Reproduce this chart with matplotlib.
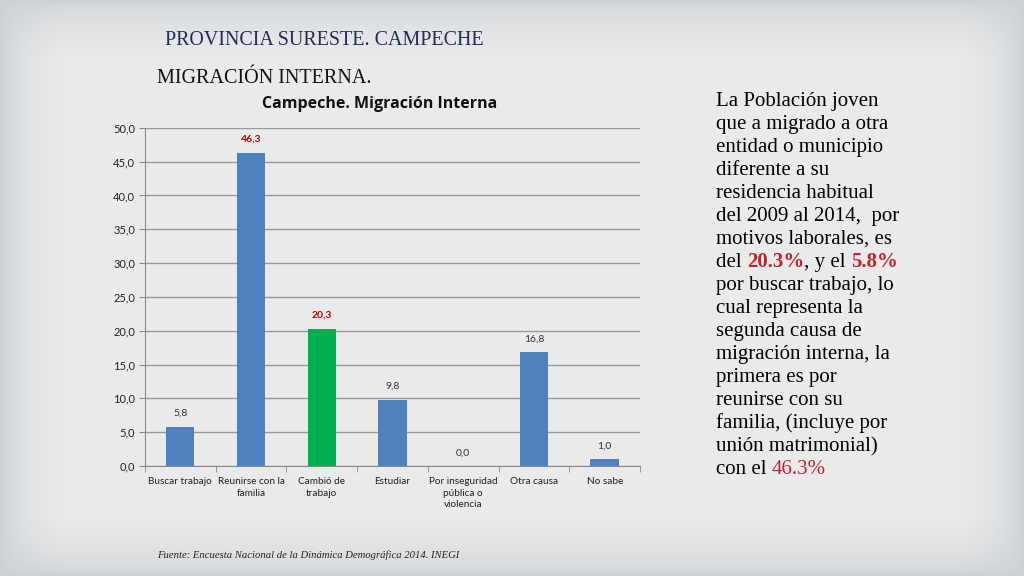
import numpy as np
import matplotlib
matplotlib.use("Agg")
from matplotlib import pyplot as plt

# chart data
categories = ["Buscar trabajo", "Reunirse con la\nfamilia", "Cambió de\ntrabajo", "Estudiar",
              "Por inseguridad\npública o\nviolencia", "Otra causa", "No sabe"]
values = [5.8, 46.3, 20.3, 9.8, 0.0, 16.8, 1.0]
highlight = [False, True, True, False, False, False, False]
bar_colors = ["#4f81bd", "#4f81bd", "#00b050", "#4f81bd", "#4f81bd", "#4f81bd", "#4f81bd"]
yticks = [0, 5, 10, 15, 20, 25, 30, 35, 40, 45, 50]

# paragraph on the right, split into (text, color, bold) pieces per line
paragraph = [
    [("La Población joven", "k", False)],
    [("que a migrado a otra", "k", False)],
    [("entidad o municipio", "k", False)],
    [("diferente a su", "k", False)],
    [("residencia habitual", "k", False)],
    [("del 2009 al 2014,  por", "k", False)],
    [("motivos laborales, es", "k", False)],
    [("del ", "k", False), ("20.3%", "#c0232b", True), (", y el ", "k", False), ("5.8%", "#c0232b", True)],
    [("por buscar trabajo, lo", "k", False)],
    [("cual representa la", "k", False)],
    [("segunda causa de", "k", False)],
    [("migración interna, la", "k", False)],
    [("primera es por", "k", False)],
    [("reunirse con su", "k", False)],
    [("familia, (incluye por", "k", False)],
    [("unión matrimonial)", "k", False)],
    [("con el ", "k", False), ("46.3%", "#c0232b", False)],
]

fig = plt.figure(figsize=(10.24, 5.76), dpi=100)

# slide background with soft darker edges
bg = fig.add_axes([0, 0, 1, 1], zorder=-10)
yy, xx = np.mgrid[0:1:200j, 0:1:360j]
edge = np.clip(np.minimum(xx, 1 - xx) / 0.06, 0, 1) * np.clip(np.minimum(yy, 1 - yy) / 0.10, 0, 1)
img = np.empty((200, 360, 3))
center = np.array([0.918, 0.918, 0.918])
outer = np.array([0.80, 0.82, 0.84])
for c in range(3):
    img[:, :, c] = outer[c] + (center[c] - outer[c]) * np.sqrt(edge)
bg.imshow(img, aspect="auto", extent=[0, 1, 0, 1])
bg.axis("off")

ax = fig.add_axes([0.1416, 0.191, 0.4834, 0.587])
ax.patch.set_alpha(0)
x = np.arange(len(categories))
ax.bar(x, values, width=0.4, color=bar_colors, zorder=3)
ax.set_xlim(-0.5, len(categories) - 0.5)
ax.set_ylim(0, 50)
ax.set_yticks(yticks)
ax.set_yticklabels([f"{v:.1f}".replace(".", ",") for v in yticks], fontsize=8,
                   family="Lato", color="#222222")
ax.set_xticks(x)
ax.set_xticklabels(categories, fontsize=7.2, family="Lato", color="#222222",
                   linespacing=1.35, va="top")
ax.tick_params(axis="x", length=0, pad=8)
ax.set_xticks(np.arange(-0.5, len(categories)), minor=True)
ax.tick_params(axis="x", which="minor", length=4, color="#8a8a8a")
ax.tick_params(axis="y", length=4, color="#8a8a8a", pad=3)
ax.grid(axis="y", color="#9a9a9a", linewidth=1, zorder=0)
for s in ["top", "right"]:
    ax.spines[s].set_visible(False)
for s in ["left", "bottom"]:
    ax.spines[s].set_color("#8a8a8a")

for xi, v, hl in zip(x, values, highlight):
    lbl = f"{v:.1f}".replace(".", ",")
    if hl:
        ax.text(xi, v + 1.3, lbl, ha="center", va="bottom", fontsize=7.5,
                family="Lato", fontweight="bold", color="#c00000")
    else:
        ax.text(xi, v + 1.3, lbl, ha="center", va="bottom", fontsize=7.5,
                family="Lato", color="#333333")

fig.text(0.371, 0.819, "Campeche. Migración Interna", ha="center", va="center",
         fontsize=11.5, family="Open Sans", fontweight="bold", color="#111111")
fig.text(0.161, 0.930, "PROVINCIA SURESTE. CAMPECHE", ha="left", va="center",
         fontsize=14.4, family="Liberation Serif", color="#1f2d5c")
fig.text(0.153, 0.864, "MIGRACIÓN INTERNA.", ha="left", va="center",
         fontsize=14.5, family="Liberation Serif", color="#111111")
fig.text(0.153, 0.037, "Fuente: Encuesta Nacional de la Dinámica Demográfica 2014. INEGI",
         ha="left", va="center", fontsize=7.7, family="Liberation Serif",
         style="italic", color="#222222")

# right-hand paragraph, piece by piece so colours can change mid-line
renderer = fig.canvas.get_renderer()
x0, y0, step = 716, 576 - 106, 23.0
for i, line in enumerate(paragraph):
    cx = x0
    for txt, col, bold in line:
        t = fig.text(cx / 1024, (y0 - i * step) / 576, txt, ha="left", va="baseline",
                     fontsize=15, family="Liberation Serif", color=col,
                     fontweight="bold" if bold else "normal")
        cx = t.get_window_extent(renderer).x1

fig.savefig("out.png", dpi=100)
